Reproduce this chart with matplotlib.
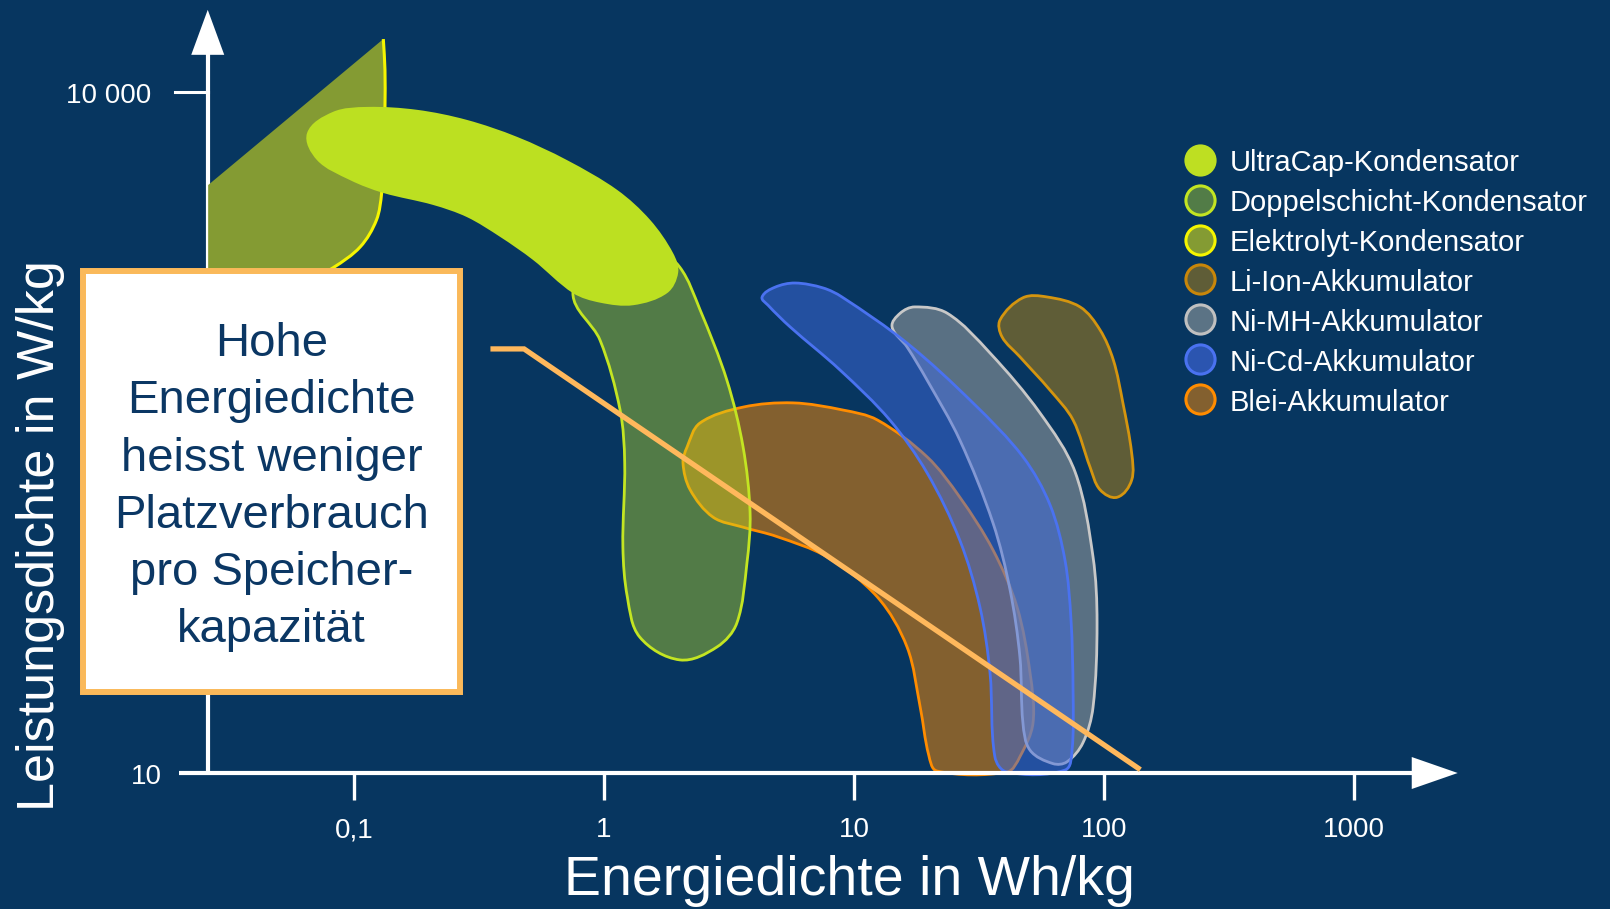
import matplotlib

matplotlib.use("Agg")
import matplotlib.pyplot as plt
import numpy as np
from matplotlib.colors import to_rgba
from matplotlib.lines import Line2D
from matplotlib.patches import PathPatch, Polygon, Rectangle
from matplotlib.path import Path
from matplotlib.transforms import ScaledTranslation

# ---- data: outlines of the regions (energy density Wh/kg, power density W/kg)
ultracap_e = [0.0649, 0.0824, 0.113, 0.179, 0.283, 0.449, 0.711, 1.13, 1.53, 1.89, 1.98,
              1.79, 1.31, 0.964, 0.751, 0.520, 0.384, 0.283, 0.207, 0.131, 0.0964, 0.0711]
ultracap_p = [6590, 8170, 8590, 8340, 7530, 6340, 5010, 3700, 2730, 1950, 1600,
              1300, 1150, 1180, 1300, 1820, 2300, 2810, 3180, 3590, 4090, 5010]

doppel_e = [0.751, 0.964, 1.16, 1.21, 1.19, 1.24, 1.39, 2.01, 2.83, 3.40, 3.73, 3.84,
            3.60, 3.10, 2.42, 2.01, 1.60, 0.964]
doppel_p = [1300, 807, 397, 232, 99, 59.6, 39.7, 31.5, 35.9, 45.8, 84.1, 140,
            273, 538, 1100, 1690, 2010, 1910]

# first two points: straight edge on the axis, then the curved right side
elektrolyt_e = [0.0261, 0.0261, 0.131, 0.133, 0.133, 0.132, 0.129, 0.123, 0.106, 0.0824, 0.0608]
elektrolyt_p = [1210, 3890, 17100, 12500, 8590, 5550, 3590, 2730, 2080, 1680, 1410]

liion_e = [38.4, 47.4, 59.2, 80.2, 96.4, 109, 119, 129, 129, 113, 96.4, 87.9, 75.2, 60.8, 46.1, 39.1]
liion_p = [991, 1240, 1250, 1130, 895, 659, 427, 257, 195, 164, 177, 223, 359, 486, 681, 834]

nimh_e = [14.2, 15.3, 17.5, 23.6, 35.0, 55.5, 76.6, 90.4, 93.8, 90.4, 82.4, 71.1, 62.5,
          50.6, 47.4, 46.1, 42.1, 36.0, 26.5, 19.6, 16.3]
nimh_p = [923, 1060, 1130, 1060, 708, 385, 212, 89.5, 45.8, 19.5, 13.6, 11.2, 11.0,
          12.6, 16.6, 32.4, 64.0, 126, 293, 538, 753]

nicd_e = [4.29, 4.83, 5.81, 7.52, 8.95, 16.3, 29.9, 47.4, 60.8, 69.8, 73.8, 75.2, 74.5,
          69.8, 40.9, 36.6, 35.0, 31.9, 26.5, 19.6, 13.9, 8.79, 5.55, 4.53]
nicd_p = [1250, 1380, 1440, 1370, 1250, 783, 427, 247, 152, 86.7, 47.2, 23.2, 12.6,
          10.3, 10.1, 11.8, 27.6, 53.8, 106, 210, 359, 596, 923, 1150]

blei_e = [2.15, 2.42, 3.60, 5.70, 9.04, 12.4, 19.6, 26.5, 36.0, 44.9, 50.6, 52.0, 46.1,
          40.9, 21.5, 19.9, 18.4, 16.3, 12.4, 7.80, 4.92, 3.60, 2.73, 2.21, 2.07]
blei_p = [273, 348, 409, 427, 397, 359, 247, 164, 95.9, 53.8, 27.6, 16.6, 11.8,
          10.1, 10.2, 12.0, 19.5, 35.9, 59.6, 89.5, 110, 121, 134, 177, 232]

hint_e = [0.36, 0.479, 137]
hint_p = [738, 738, 10.5]

x_ticks = [0.1, 1, 10, 100, 1000]
x_tick_labels = ["0,1", "1", "10", "100", "1000"]
y_ticks = [10, 10000]
y_tick_labels = ["10", "10 000"]

legend_names = ["UltraCap-Kondensator", "Doppelschicht-Kondensator", "Elektrolyt-Kondensator",
                "Li-Ion-Akkumulator", "Ni-MH-Akkumulator", "Ni-Cd-Akkumulator", "Blei-Akkumulator"]
legend_face = ["#BEDF22", "#527C47", "#849B33", "#5F5D37", "#5B7385", "#2B55B0", "#83602F"]
legend_edge = ["#BEDF22", "#C3E522", "#F5F500", "#C8860A", "#C0C0C0", "#4A72F0", "#FF8C00"]

box_lines = ["Hohe", "Energiedichte", "heisst weniger", "Platzverbrauch", "pro Speicher-", "kapazität"]

BG = "#073660"
W, H = 1610, 909

plt.rcParams["font.family"] = ["Liberation Sans", "DejaVu Sans"]

# one decade is 250 px wide and 227 px tall; used to keep the curves round
ASPECT = np.array([1.0, 227 / 250])


def bezier_segments(pts, closed):
    # smooth curve through the points, as cubic Bezier segments (chord-length tangents)
    n = len(pts)
    q = pts * ASPECT

    def tangent(i):
        a = q[i - 1] if (closed or i > 0) else q[i]
        b = q[(i + 1) % n] if (closed or i < n - 1) else q[i]
        d = b - a
        return d / np.hypot(*d)

    verts, codes = [], []
    for i in range(n if closed else n - 1):
        j = (i + 1) % n
        L = np.hypot(*(q[j] - q[i])) / 3
        c1 = (q[i] + tangent(i) * L) / ASPECT
        c2 = (q[j] - tangent(j) * L) / ASPECT
        verts += [c1, c2, pts[j]]
        codes += [Path.CURVE4] * 3
    return verts, codes


def blob_path(e, p):
    pts = np.log10(np.column_stack([e, p]))
    verts, codes = bezier_segments(pts, closed=True)
    verts = [pts[0]] + verts + [pts[0]]
    codes = [Path.MOVETO] + codes + [Path.CLOSEPOLY]
    return Path(10 ** np.array(verts), codes)


fig = plt.figure(figsize=(W / 100, H / 100), dpi=100, facecolor=BG)
ax = fig.add_axes([0, 0, 1, 1])
ax.set_xscale("log")
ax.set_yscale("log")
ax.set_xlim(10 ** -2.416, 10 ** 4.024)
ax.set_ylim(10 ** 0.401, 10 ** 4.405)
ax.axis("off")

y_axis_at = 0.026
x_axis_start, x_axis_end = 0.02, 2600
y_axis_top = 23000

# vertical axis sits below the capacitor shapes
ax.plot([y_axis_at, y_axis_at], [10, 16000], color="white", lw=3, zorder=1, solid_capstyle="butt")
ax.plot([0.0192, y_axis_at], [10000, 10000], color="white", lw=2.2, zorder=1)


def arrow_head(x, y, verts):
    trans = fig.dpi_scale_trans + ScaledTranslation(x, y, ax.transData)
    ax.add_patch(Polygon(verts, closed=True, transform=trans, fc="white", ec="none",
                         zorder=8, clip_on=False))


arrow_head(y_axis_at, y_axis_top, [(0, 0), (-0.165, -0.45), (0.165, -0.45)])

# Elektrolyt: straight edges on axis and diagonal, curved right side with yellow edge
el = np.log10(np.column_stack([elektrolyt_e, elektrolyt_p]))
cv, cc = bezier_segments(el[2:], closed=False)
fill_path = Path(10 ** np.array([el[0], el[1], el[2]] + cv + [el[0]]),
                 [Path.MOVETO, Path.LINETO, Path.LINETO] + cc + [Path.CLOSEPOLY])
edge_path = Path(10 ** np.array([el[2]] + cv), [Path.MOVETO] + cc)
ax.add_patch(PathPatch(fill_path, fc="#849B33", ec="none", zorder=2))
ax.add_patch(PathPatch(edge_path, fc="none", ec="#F5F500", lw=2.2, zorder=2.1))

shapes = [
    (blei_e, blei_p, to_rgba("#83602F", 1.0), "#FF8C00", 3),
    (liion_e, liion_p, to_rgba("#5F5D37", 1.0), "#D4950F", 3),
    (doppel_e, doppel_p, to_rgba("#C3E522", 0.4), "#C3E522", 4),
    (ultracap_e, ultracap_p, to_rgba("#BCE021", 1.0), "none", 5),
    (nimh_e, nimh_p, to_rgba("#91989C", 0.6), "#C8C8C8", 5),
    (nicd_e, nicd_p, to_rgba("#3F6AE0", 0.5), "#4A72F0", 6),
]
for e, p, fc, ec, z in shapes:
    ax.add_patch(PathPatch(blob_path(e, p), fc=fc, ec=ec, lw=2.0, zorder=z))

# horizontal axis on top of the shapes
ax.plot([x_axis_start, 2200], [10, 10], color="white", lw=3, zorder=7, solid_capstyle="butt")
arrow_head(x_axis_end, 10, [(0, 0), (-0.46, 0.16), (-0.46, -0.16)])
for xt, lab in zip(x_ticks, x_tick_labels):
    ax.plot([xt, xt], [10, 7.6], color="white", lw=2.4, zorder=7, solid_capstyle="butt")
    ax.annotate(lab, xy=(xt, 10), xytext=(0, -57), textcoords="offset pixels",
                ha="center", va="center", fontsize=20, color="white")
for yt, lab, off in zip(y_ticks, y_tick_labels, [46, 56]):
    ax.annotate(lab, xy=(y_axis_at, yt), xytext=(-off, -4), textcoords="offset pixels",
                ha="right", va="center", fontsize=20, color="white")

ax.plot(hint_e, hint_p, color="#FFB85C", lw=3.8, zorder=9, solid_joinstyle="miter")

fig.text(849 / W, 1 - 895 / H, "Energiedichte in Wh/kg", ha="center", va="baseline",
         fontsize=40, color="white")
fig.text(41 / W, 1 - 536 / H, "Leistungsdichte in W/kg", rotation=90, ha="center",
         va="center", fontsize=37.5, color="white")

# legend
for i, (name, fcol, ecol) in enumerate(zip(legend_names, legend_face, legend_edge)):
    y_mark = 1 - (159.8 + 39.9 * i) / H
    y_text = 1 - (163.3 + 39.9 * i) / H
    fig.add_artist(Line2D([1200 / W], [y_mark], marker="o", ms=21, mfc=fcol, mec=ecol, mew=2.2,
                          linestyle="none", transform=fig.transFigure))
    fig.text(1230 / W, y_text, name, ha="left", va="center", fontsize=21, color="white")

# callout box
fig.add_artist(Rectangle((83 / W, 1 - 692 / H), 377 / W, 421 / H, transform=fig.transFigure,
                         fc="white", ec="#FAB95A", lw=4.3, zorder=10))
for i, line in enumerate(box_lines):
    fig.text(271.5 / W, 1 - (356 + 57.3 * i) / H, line, ha="center", va="baseline",
             fontsize=34, color="#0B3764", zorder=11)

fig.savefig("out.png", dpi=100, facecolor=fig.get_facecolor())
